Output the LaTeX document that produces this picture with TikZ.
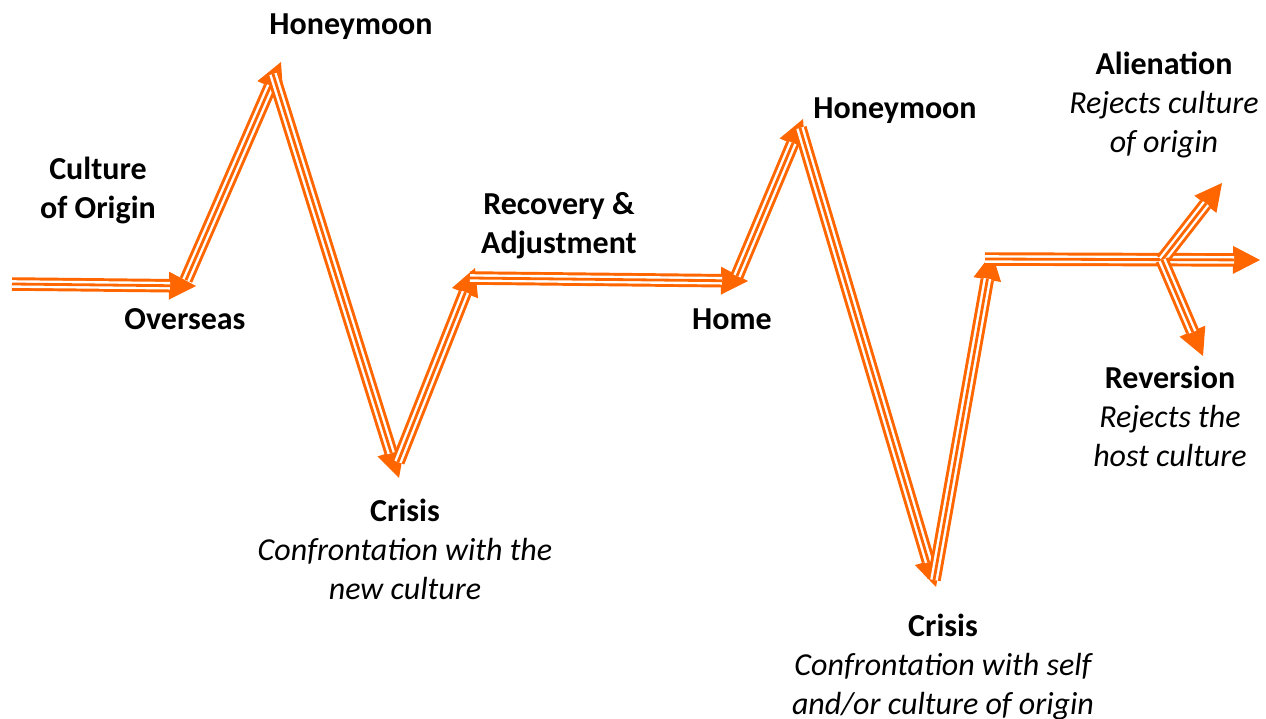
\documentclass[tikz,border=0pt]{standalone}
\usepackage{fontspec}
\setmainfont{Carlito}
\usetikzlibrary{arrows.meta}
\definecolor{org}{RGB}{255,102,0}
\begin{document}
\begin{tikzpicture}[x=1pt,y=-1pt,
  tri/.style={draw=org, line width=13.5pt, -{Triangle[length=27pt,width=28pt,line width=0pt]},
    postaction={draw=white, line width=7.6pt, shorten >=26pt, -},
    postaction={draw=org, line width=2.8pt, shorten >=26pt, -}},
  lbl/.style={font=\fontsize{32}{39}\selectfont\bfseries, align=center, anchor=base, inner sep=0pt}]
\path[use as bounding box] (0,0) rectangle (1266,719);
% path points
\coordinate (s1a) at (12,284);   \coordinate (s1b) at (196,286);
\coordinate (s2a) at (186,280);  \coordinate (s2b) at (281,62);
\coordinate (s3a) at (273,74);   \coordinate (s3b) at (399,478);
\coordinate (s4a) at (398,462);  \coordinate (s4b) at (475,268);
\coordinate (s5a) at (470,278);  \coordinate (s5b) at (748,281);
\coordinate (s6a) at (737,276);  \coordinate (s6b) at (803,119);
\coordinate (s7a) at (800,128);  \coordinate (s7b) at (936,587);
\coordinate (s8a) at (934,580);  \coordinate (s8b) at (992,253);
\coordinate (s9a) at (985,259);  \coordinate (s9b) at (1260,260);
\coordinate (br) at (1162,260);
\coordinate (up) at (1222,183);
\coordinate (dn) at (1203,356);
% arrows
\draw[tri] (s1a) -- (s1b);
\draw[tri] (s2a) -- (s2b);
\draw[tri] (s3a) -- (s3b);
\draw[tri] (s4a) -- (s4b);
\draw[tri] (s5a) -- (s5b);
\draw[tri] (s6a) -- (s6b);
\draw[tri] (s7a) -- (s7b);
\draw[tri] (s8a) -- (s8b);
\draw[tri] (s9a) -- (s9b);
\draw[tri] (br) -- (up);
\draw[tri] (br) -- (dn);
% labels (anchor = baseline of last line)
\node[lbl] (hm1) at (351,35) {Honeymoon};
\node[lbl] (coo) at (98,219) {Culture\\of Origin};
\node[lbl] (ovs) at (185,330) {Overseas};
\node[lbl] (cr1) at (405,599) {Crisis\\\mdseries\itshape Confrontation with the\\\mdseries\itshape new culture};
\node[lbl] (rec) at (559,254) {Recovery \&\\Adjustment};
\node[lbl] (home) at (732,330) {Home};
\node[lbl] (hm2) at (895,119) {Honeymoon};
\node[lbl] (ali) at (1164,153) {Alienation\\\mdseries\itshape Rejects culture\\\mdseries\itshape of origin};
\node[lbl] (rev) at (1170,466) {Reversion\\\mdseries\itshape Rejects the\\\mdseries\itshape host culture};
\node[lbl] (cr2) at (943,714) {Crisis\\\mdseries\itshape Confrontation with self\\\mdseries\itshape and/or culture of origin};
\end{tikzpicture}
\end{document}
